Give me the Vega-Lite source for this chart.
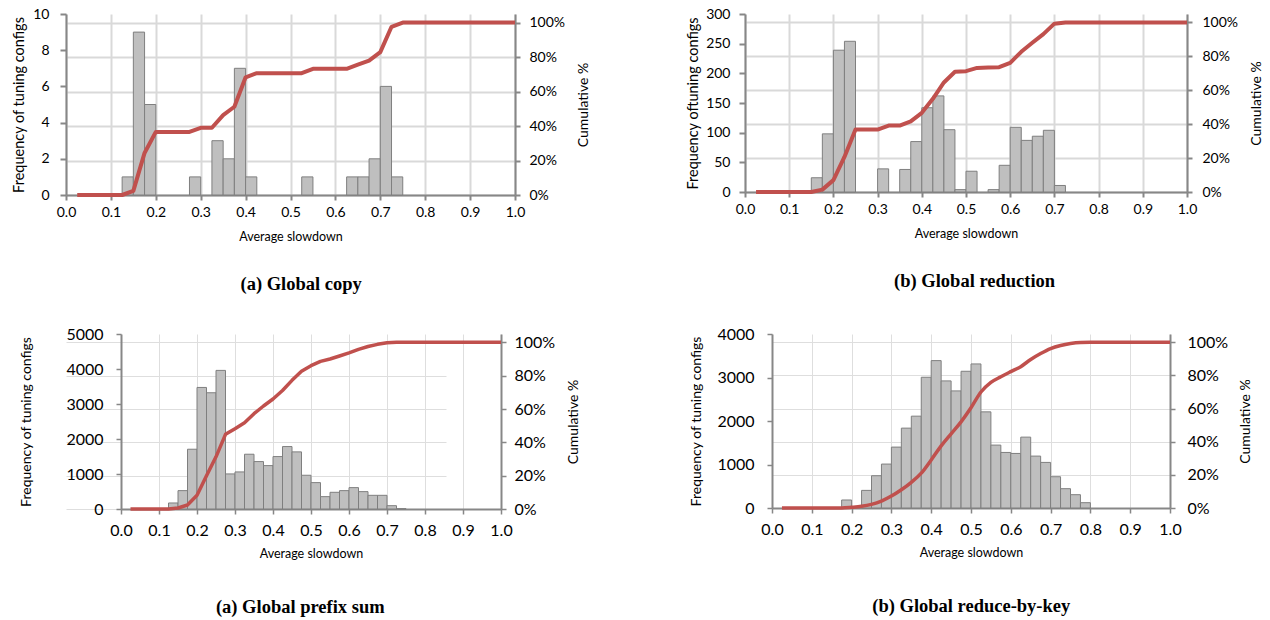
{
  "$schema": "https://vega.github.io/schema/vega-lite/v6.json",
  "padding": {"left": 11, "top": 7, "right": 2, "bottom": 2},
  "config": {
    "view": {"stroke": null},
    "font": "Lato",
    "axis": {"labelFont": "Lato", "titleFont": "Lato", "labelColor": "#000000", "titleColor": "#000000", "titleFontWeight": "normal", "domainColor": "#878787", "tickColor": "#878787", "labelOverlap": false}
  },
  "datasets": {
    "b1": [{"lo":0.125,"hi":0.15,"n":1},{"lo":0.15,"hi":0.175,"n":9},{"lo":0.175,"hi":0.2,"n":5},{"lo":0.275,"hi":0.3,"n":1},{"lo":0.325,"hi":0.35,"n":3},{"lo":0.35,"hi":0.375,"n":2},{"lo":0.375,"hi":0.4,"n":7},{"lo":0.4,"hi":0.425,"n":1},{"lo":0.525,"hi":0.55,"n":1},{"lo":0.625,"hi":0.65,"n":1},{"lo":0.65,"hi":0.675,"n":1},{"lo":0.675,"hi":0.7,"n":2},{"lo":0.7,"hi":0.725,"n":6},{"lo":0.725,"hi":0.75,"n":1}],
    "c1": [{"s":0.025,"c":0},{"s":0.05,"c":0},{"s":0.075,"c":0},{"s":0.1,"c":0},{"s":0.125,"c":0},{"s":0.15,"c":0.024},{"s":0.175,"c":0.244},{"s":0.2,"c":0.366},{"s":0.225,"c":0.366},{"s":0.25,"c":0.366},{"s":0.275,"c":0.366},{"s":0.3,"c":0.39},{"s":0.325,"c":0.39},{"s":0.35,"c":0.463},{"s":0.375,"c":0.512},{"s":0.4,"c":0.683},{"s":0.425,"c":0.707},{"s":0.45,"c":0.707},{"s":0.475,"c":0.707},{"s":0.5,"c":0.707},{"s":0.525,"c":0.707},{"s":0.55,"c":0.732},{"s":0.575,"c":0.732},{"s":0.6,"c":0.732},{"s":0.625,"c":0.732},{"s":0.65,"c":0.756},{"s":0.675,"c":0.78},{"s":0.7,"c":0.829},{"s":0.725,"c":0.976},{"s":0.75,"c":1},{"s":0.775,"c":1},{"s":0.8,"c":1},{"s":0.825,"c":1},{"s":0.85,"c":1},{"s":0.875,"c":1},{"s":0.9,"c":1},{"s":0.925,"c":1},{"s":0.95,"c":1},{"s":0.975,"c":1},{"s":1.0,"c":1}],
    "b2": [{"lo":0.15,"hi":0.175,"n":24},{"lo":0.175,"hi":0.2,"n":98},{"lo":0.2,"hi":0.225,"n":239},{"lo":0.225,"hi":0.25,"n":254},{"lo":0.3,"hi":0.325,"n":39},{"lo":0.35,"hi":0.375,"n":38},{"lo":0.375,"hi":0.4,"n":85},{"lo":0.4,"hi":0.425,"n":142},{"lo":0.425,"hi":0.45,"n":162},{"lo":0.45,"hi":0.475,"n":105},{"lo":0.475,"hi":0.5,"n":4},{"lo":0.5,"hi":0.525,"n":35},{"lo":0.55,"hi":0.575,"n":4},{"lo":0.575,"hi":0.6,"n":45},{"lo":0.6,"hi":0.625,"n":109},{"lo":0.625,"hi":0.65,"n":87},{"lo":0.65,"hi":0.675,"n":94},{"lo":0.675,"hi":0.7,"n":104},{"lo":0.7,"hi":0.725,"n":11}],
    "c2": [{"s":0.025,"c":0},{"s":0.05,"c":0},{"s":0.075,"c":0},{"s":0.1,"c":0},{"s":0.125,"c":0},{"s":0.15,"c":0},{"s":0.175,"c":0.014},{"s":0.2,"c":0.07},{"s":0.225,"c":0.207},{"s":0.25,"c":0.368},{"s":0.275,"c":0.368},{"s":0.3,"c":0.368},{"s":0.325,"c":0.392},{"s":0.35,"c":0.392},{"s":0.375,"c":0.417},{"s":0.4,"c":0.467},{"s":0.425,"c":0.55},{"s":0.45,"c":0.646},{"s":0.475,"c":0.709},{"s":0.5,"c":0.713},{"s":0.525,"c":0.732},{"s":0.55,"c":0.734},{"s":0.575,"c":0.736},{"s":0.6,"c":0.762},{"s":0.625,"c":0.827},{"s":0.65,"c":0.88},{"s":0.675,"c":0.931},{"s":0.7,"c":0.993},{"s":0.725,"c":1},{"s":0.75,"c":1},{"s":0.775,"c":1},{"s":0.8,"c":1},{"s":0.825,"c":1},{"s":0.85,"c":1},{"s":0.875,"c":1},{"s":0.9,"c":1},{"s":0.925,"c":1},{"s":0.95,"c":1},{"s":0.975,"c":1},{"s":1.0,"c":1}],
    "b3": [{"lo":0.125,"hi":0.15,"n":172},{"lo":0.15,"hi":0.175,"n":525},{"lo":0.175,"hi":0.2,"n":1708},{"lo":0.2,"hi":0.225,"n":3473},{"lo":0.225,"hi":0.25,"n":3321},{"lo":0.25,"hi":0.275,"n":3960},{"lo":0.275,"hi":0.3,"n":1002},{"lo":0.3,"hi":0.325,"n":1059},{"lo":0.325,"hi":0.35,"n":1565},{"lo":0.35,"hi":0.375,"n":1355},{"lo":0.375,"hi":0.4,"n":1240},{"lo":0.4,"hi":0.425,"n":1498},{"lo":0.425,"hi":0.45,"n":1784},{"lo":0.45,"hi":0.475,"n":1632},{"lo":0.475,"hi":0.5,"n":964},{"lo":0.5,"hi":0.525,"n":754},{"lo":0.525,"hi":0.55,"n":353},{"lo":0.55,"hi":0.575,"n":477},{"lo":0.575,"hi":0.6,"n":525},{"lo":0.6,"hi":0.625,"n":611},{"lo":0.625,"hi":0.65,"n":496},{"lo":0.65,"hi":0.675,"n":391},{"lo":0.675,"hi":0.7,"n":391},{"lo":0.7,"hi":0.725,"n":95},{"lo":0.725,"hi":0.75,"n":10}],
    "c3": [{"s":0.025,"c":0},{"s":0.05,"c":0},{"s":0.075,"c":0},{"s":0.1,"c":0},{"s":0.125,"c":0},{"s":0.15,"c":0.006},{"s":0.175,"c":0.024},{"s":0.2,"c":0.082},{"s":0.225,"c":0.2},{"s":0.25,"c":0.313},{"s":0.275,"c":0.448},{"s":0.3,"c":0.482},{"s":0.325,"c":0.518},{"s":0.35,"c":0.572},{"s":0.375,"c":0.618},{"s":0.4,"c":0.66},{"s":0.425,"c":0.711},{"s":0.45,"c":0.772},{"s":0.475,"c":0.827},{"s":0.5,"c":0.86},{"s":0.525,"c":0.886},{"s":0.55,"c":0.9},{"s":0.575,"c":0.918},{"s":0.6,"c":0.937},{"s":0.625,"c":0.958},{"s":0.65,"c":0.975},{"s":0.675,"c":0.988},{"s":0.7,"c":0.998},{"s":0.725,"c":1},{"s":0.75,"c":1},{"s":0.775,"c":1},{"s":0.8,"c":1},{"s":0.825,"c":1},{"s":0.85,"c":1},{"s":0.875,"c":1},{"s":0.9,"c":1},{"s":0.925,"c":1},{"s":0.95,"c":1},{"s":0.975,"c":1},{"s":1.0,"c":1}],
    "b4": [{"lo":0.175,"hi":0.2,"n":184},{"lo":0.225,"hi":0.25,"n":405},{"lo":0.25,"hi":0.275,"n":742},{"lo":0.275,"hi":0.3,"n":1010},{"lo":0.3,"hi":0.325,"n":1400},{"lo":0.325,"hi":0.35,"n":1836},{"lo":0.35,"hi":0.375,"n":2111},{"lo":0.375,"hi":0.4,"n":3006},{"lo":0.4,"hi":0.425,"n":3388},{"lo":0.425,"hi":0.45,"n":2922},{"lo":0.45,"hi":0.475,"n":2692},{"lo":0.475,"hi":0.5,"n":3143},{"lo":0.5,"hi":0.525,"n":3312},{"lo":0.525,"hi":0.55,"n":2210},{"lo":0.55,"hi":0.575,"n":1446},{"lo":0.575,"hi":0.6,"n":1277},{"lo":0.6,"hi":0.625,"n":1254},{"lo":0.625,"hi":0.65,"n":1629},{"lo":0.65,"hi":0.675,"n":1193},{"lo":0.675,"hi":0.7,"n":1048},{"lo":0.7,"hi":0.725,"n":719},{"lo":0.725,"hi":0.75,"n":444},{"lo":0.75,"hi":0.775,"n":306},{"lo":0.775,"hi":0.8,"n":122}],
    "c4": [{"s":0.025,"c":0},{"s":0.05,"c":0},{"s":0.075,"c":0},{"s":0.1,"c":0},{"s":0.125,"c":0},{"s":0.15,"c":0},{"s":0.175,"c":0},{"s":0.2,"c":0.004},{"s":0.225,"c":0.01},{"s":0.25,"c":0.022},{"s":0.275,"c":0.042},{"s":0.3,"c":0.072},{"s":0.325,"c":0.11},{"s":0.35,"c":0.155},{"s":0.375,"c":0.21},{"s":0.4,"c":0.29},{"s":0.425,"c":0.375},{"s":0.45,"c":0.448},{"s":0.475,"c":0.52},{"s":0.5,"c":0.605},{"s":0.525,"c":0.7},{"s":0.55,"c":0.758},{"s":0.575,"c":0.792},{"s":0.6,"c":0.823},{"s":0.625,"c":0.853},{"s":0.65,"c":0.896},{"s":0.675,"c":0.932},{"s":0.7,"c":0.962},{"s":0.725,"c":0.981},{"s":0.75,"c":0.993},{"s":0.775,"c":0.999},{"s":0.8,"c":1},{"s":0.825,"c":1},{"s":0.85,"c":1},{"s":0.875,"c":1},{"s":0.9,"c":1},{"s":0.925,"c":1},{"s":0.95,"c":1},{"s":0.975,"c":1},{"s":1.0,"c":1}]
  },
  "spacing": 33,
  "vconcat": [
    {
      "hconcat": [
        {
          "width": 449, "height": 181,
          "title": {"text": "(a) Global copy", "orient": "bottom", "frame": "bounds", "anchor": "middle", "font": "Liberation Serif", "fontWeight": "bold", "fontSize": 18.5, "color": "#000000", "offset": 32},
          "layer": [
            {"data": {"name": "b1"}, "mark": {"type": "rect", "fill": "#bfbfbf", "stroke": "#7f7f7f", "strokeWidth": 1},
             "encoding": {
               "x": {"field": "lo", "type": "quantitative", "scale": {"domain": [0, 1], "nice": false},
                     "axis": {"title": "Average slowdown", "values": [0,0.1,0.2,0.3,0.4,0.5,0.6,0.7,0.8,0.9,1.0], "tickCount": 11, "format": ".1f", "labelFlush": false, "labelOverlap": false, "grid": true, "gridColor": "#d9d9d9", "gridWidth": 2, "domainWidth": 2, "tickWidth": 2, "tickSize": 5, "labelFontSize": 14, "labelPadding": 5, "titleFontSize": 12.5, "titlePadding": 11}},
               "x2": {"field": "hi"},
               "y": {"field": "n", "type": "quantitative", "scale": {"domain": [0, 10], "nice": false},
                     "axis": {"title": "Frequency of tuning configs", "values": [0,2,4,6,8,10], "format": "d", "grid": false, "domainWidth": 2, "tickWidth": 2, "tickSize": 6, "labelFontSize": 14, "labelPadding": 11, "titleFontSize": 14.5, "titlePadding": 6}},
               "y2": {"datum": 0}
             }},
            {"data": {"name": "c1"}, "mark": {"type": "line", "color": "#c0504d", "strokeWidth": 4, "strokeJoin": "round"},
             "encoding": {
               "x": {"field": "s", "type": "quantitative"},
               "y": {"field": "c", "type": "quantitative", "scale": {"domain": [0, 1.05], "nice": false},
                     "axis": {"orient": "right", "title": "Cumulative %", "titleAngle": 270, "titleBaseline": "top", "values": [0,0.2,0.4,0.6,0.8,1.0], "format": ".0%", "grid": true, "gridColor": "#d9d9d9", "gridWidth": 2, "domainWidth": 2, "tickWidth": 2, "tickSize": 5, "labelFontSize": 14, "labelPadding": 9, "titleFontSize": 14, "titlePadding": 12}}
             }}
          ],
          "resolve": {"scale": {"y": "independent"}}
        },
        {
          "width": 442, "height": 178,
          "title": {"text": "(b) Global reduction", "orient": "bottom", "frame": "bounds", "anchor": "middle", "font": "Liberation Serif", "fontWeight": "bold", "fontSize": 18.5, "color": "#000000", "offset": 32},
          "layer": [
            {"data": {"name": "b2"}, "mark": {"type": "rect", "fill": "#bfbfbf", "stroke": "#7f7f7f", "strokeWidth": 1},
             "encoding": {
               "x": {"field": "lo", "type": "quantitative", "scale": {"domain": [0, 1], "nice": false},
                     "axis": {"title": "Average slowdown", "values": [0,0.1,0.2,0.3,0.4,0.5,0.6,0.7,0.8,0.9,1.0], "tickCount": 11, "format": ".1f", "labelFlush": false, "labelOverlap": false, "grid": true, "gridColor": "#d9d9d9", "gridWidth": 2, "domainWidth": 2, "tickWidth": 2, "tickSize": 5, "labelFontSize": 14, "labelPadding": 5, "titleFontSize": 12.5, "titlePadding": 11}},
               "x2": {"field": "hi"},
               "y": {"field": "n", "type": "quantitative", "scale": {"domain": [0, 300], "nice": false},
                     "axis": {"title": "Frequency oftuning configs", "values": [0,50,100,150,200,250,300], "format": "d", "grid": false, "domainWidth": 2, "tickWidth": 2, "tickSize": 6, "labelFontSize": 14, "labelPadding": 9, "titleFontSize": 14.5, "titlePadding": 5}},
               "y2": {"datum": 0}
             }},
            {"data": {"name": "c2"}, "mark": {"type": "line", "color": "#c0504d", "strokeWidth": 4, "strokeJoin": "round"},
             "encoding": {
               "x": {"field": "s", "type": "quantitative"},
               "y": {"field": "c", "type": "quantitative", "scale": {"domain": [0, 1.05], "nice": false},
                     "axis": {"orient": "right", "title": "Cumulative %", "titleAngle": 270, "titleBaseline": "top", "values": [0,0.2,0.4,0.6,0.8,1.0], "format": ".0%", "grid": true, "gridColor": "#d9d9d9", "gridWidth": 2, "domainWidth": 2, "tickWidth": 2, "tickSize": 5, "labelFontSize": 14, "labelPadding": 10, "titleFontSize": 14, "titlePadding": 12}}
             }}
          ],
          "resolve": {"scale": {"y": "independent"}}
        }
      ],
      "spacing": 230,
      "bounds": "flush"
    },
    {
      "hconcat": [
        {
          "width": 435, "height": 175,
          "title": {"text": "(a) Global prefix sum", "orient": "bottom", "frame": "bounds", "anchor": "middle", "font": "Liberation Serif", "fontWeight": "bold", "fontSize": 18.5, "color": "#000000", "offset": 38},
          "layer": [
            {"data": {"name": "b3"}, "mark": {"type": "rect", "fill": "#bfbfbf", "stroke": "#7f7f7f", "strokeWidth": 1},
             "encoding": {
               "x": {"field": "lo", "type": "quantitative", "scale": {"domain": [0, 1], "nice": false, "range": [55, 435]},
                     "axis": {"title": "Average slowdown", "values": [0,0.1,0.2,0.3,0.4,0.5,0.6,0.7,0.8,0.9,1.0], "tickCount": 11, "format": ".1f", "labelFlush": false, "labelOverlap": false, "grid": true, "gridColor": "#dedede", "gridWidth": 1, "domainWidth": 2, "tickWidth": 1.5, "tickSize": 5, "labelFontSize": 16, "labelPadding": 8, "titleFontSize": 12.5, "titlePadding": 9}},
               "x2": {"field": "hi"},
               "y": {"field": "n", "type": "quantitative", "scale": {"domain": [0, 5000], "nice": false},
                     "axis": {"title": "Frequency of tuning configs", "offset": -55, "values": [0,1000,2000,3000,4000,5000], "format": "d", "grid": false, "domainWidth": 2, "tickWidth": 1.5, "tickSize": 5, "labelFontSize": 16, "labelPadding": 13, "titleFontSize": 14, "titlePadding": 32}},
               "y2": {"datum": 0}
             }},
            {"data": {"name": "c3"}, "mark": {"type": "line", "color": "#c0504d", "strokeWidth": 3.5, "strokeJoin": "round"},
             "encoding": {
               "x": {"field": "s", "type": "quantitative"},
               "y": {"field": "c", "type": "quantitative", "scale": {"domain": [0, 1.05], "nice": false},
                     "axis": {"orient": "right", "title": "Cumulative %", "titleAngle": 270, "titleBaseline": "top", "values": [0,0.2,0.4,0.6,0.8,1.0], "format": ".0%", "grid": true, "gridColor": "#dedede", "gridWidth": 1, "domainWidth": 2, "tickWidth": 1.5, "tickSize": 5, "labelFontSize": 16, "labelPadding": 8, "titleFontSize": 14, "titlePadding": 12}}
             }}
          ],
          "resolve": {"scale": {"y": "independent"}}
        },
        {
          "width": 398, "height": 174,
          "title": {"text": "(b) Global reduce-by-key", "orient": "bottom", "frame": "bounds", "anchor": "middle", "font": "Liberation Serif", "fontWeight": "bold", "fontSize": 18.5, "color": "#000000", "offset": 38},
          "layer": [
            {"data": {"name": "b4"}, "mark": {"type": "rect", "fill": "#bfbfbf", "stroke": "#7f7f7f", "strokeWidth": 1},
             "encoding": {
               "x": {"field": "lo", "type": "quantitative", "scale": {"domain": [0, 1], "nice": false},
                     "axis": {"title": "Average slowdown", "values": [0,0.1,0.2,0.3,0.4,0.5,0.6,0.7,0.8,0.9,1.0], "tickCount": 11, "format": ".1f", "labelFlush": false, "labelOverlap": false, "grid": true, "gridColor": "#dedede", "gridWidth": 1, "domainWidth": 2, "tickWidth": 1.5, "tickSize": 5, "labelFontSize": 16, "labelPadding": 8, "titleFontSize": 12.5, "titlePadding": 9}},
               "x2": {"field": "hi"},
               "y": {"field": "n", "type": "quantitative", "scale": {"domain": [0, 4000], "nice": false},
                     "axis": {"title": "Frequency of tuning configs", "values": [0,1000,2000,3000,4000], "format": "d", "grid": false, "domainWidth": 2, "tickWidth": 1.5, "tickSize": 5, "labelFontSize": 16, "labelPadding": 13, "titleFontSize": 14, "titlePadding": 13}},
               "y2": {"datum": 0}
             }},
            {"data": {"name": "c4"}, "mark": {"type": "line", "color": "#c0504d", "strokeWidth": 3.5, "strokeJoin": "round", "interpolate": "monotone"},
             "encoding": {
               "x": {"field": "s", "type": "quantitative"},
               "y": {"field": "c", "type": "quantitative", "scale": {"domain": [0, 1.05], "nice": false},
                     "axis": {"orient": "right", "title": "Cumulative %", "titleAngle": 270, "titleBaseline": "top", "values": [0,0.2,0.4,0.6,0.8,1.0], "format": ".0%", "grid": true, "gridColor": "#dedede", "gridWidth": 1, "domainWidth": 2, "tickWidth": 1.5, "tickSize": 5, "labelFontSize": 16, "labelPadding": 12, "titleFontSize": 14, "titlePadding": 11}}
             }}
          ],
          "resolve": {"scale": {"y": "independent"}}
        }
      ],
      "spacing": 271,
      "bounds": "flush"
    }
  ]
}
